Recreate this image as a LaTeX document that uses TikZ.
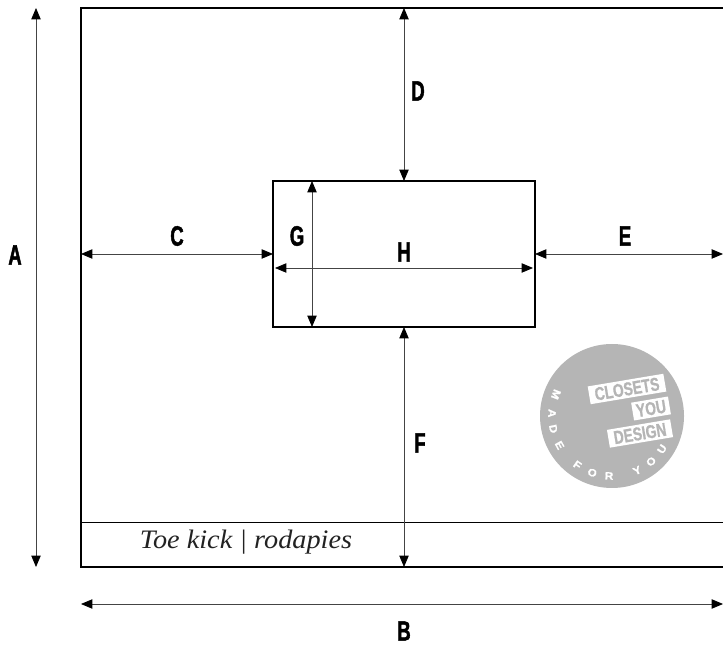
\documentclass[tikz,border=0pt]{standalone}
\usepackage{fontspec}
\usetikzlibrary{arrows.meta}
\newfontfamily\lblfont[FakeStretch=0.66,FakeBold=1.6]{Liberation Sans Bold}
\newfontfamily\badgefont[FakeStretch=0.74,FakeBold=0.8]{Liberation Sans Bold}
\newfontfamily\letterfont[FakeStretch=1.1,FakeBold=1]{Liberation Sans Bold}
\newfontfamily\toefont[FakeStretch=1.06]{Liberation Serif Italic}
\definecolor{badgegray}{HTML}{B5B5B5}
\definecolor{dimgray}{HTML}{444444}
\definecolor{toegray}{HTML}{222222}
\tikzset{
    dimlabel/.style={font=\lblfont\fontsize{21}{21}\selectfont, text=black, inner sep=0pt},
    dimline/.style={draw=dimgray, line width=0.6pt, {Triangle[length=8.5pt,width=7pt,color=black,fill=black]}-{Triangle[length=8.5pt,width=7pt,color=black,fill=black]}},
    frameline/.style={draw=black, line width=2pt},
    badgebar/.style={fill=white, text=badgegray, font=\badgefont\fontsize{14}{14}\selectfont, rotate=9.5, inner sep=0pt, minimum height=13.5pt},
    badgeletter/.style={text=white, font=\letterfont\fontsize{8}{8}\selectfont, inner sep=0pt}
}
\begin{document}
\begin{tikzpicture}[x=0.75pt, y=0.75pt]
        \useasboundingbox (0, 0) rectangle (723, 645);
        % frame corners and free ends
        \coordinate (tl) at (81, 637);
        \coordinate (tr) at (723, 637);
        \coordinate (bl) at (81, 78);
        \coordinate (br) at (723, 78);
        \coordinate (kl) at (81, 122.5);
        \coordinate (kr) at (723, 122.5);
        \coordinate (at) at (36, 637);
        \coordinate (ab) at (36, 78);
        \coordinate (bbl) at (81, 41);
        \coordinate (bbr) at (723, 41);
        \coordinate (cl) at (81, 391);
        \coordinate (er) at (723, 391);
        \coordinate (dt) at (404, 637);
        \coordinate (fb) at (404, 78);
        % opening
        \node [draw=black, line width=1.8pt, minimum width=196.5pt, minimum height=109.5pt, inner sep=0pt, outer sep=0pt] (box) at (404, 391) {};
        \coordinate (gt) at (312, 464);
        \coordinate (gb) at (312, 318);
        \coordinate (hl) at (275, 377);
        \coordinate (hr) at (533, 377);
        \draw [frameline] (tr) -- (tl) -- (bl) -- (br);
        \draw [draw=black, line width=0.7pt] (kl) -- (kr);
        % dimensions
        \path [dimline] (at) -- (ab);
        \path [dimline] (bbl) -- (bbr);
        \path [dimline] (cl) -- (box.west);
        \path [dimline] (box.east) -- (er);
        \path [dimline] (dt) -- (box.north);
        \path [dimline] (box.south) -- (fb);
        \path [dimline] (gt) -- (gb);
        \path [dimline] (hl) -- (hr);
        \node [dimlabel] (la) at (15, 390) {A};
        \node [dimlabel] (lb) at (404, 14) {B};
        \node [dimlabel] (lc) at (177, 409) {C};
        \node [dimlabel] (ld) at (418, 554) {D};
        \node [dimlabel] (le) at (625, 409) {E};
        \node [dimlabel] (lf) at (420, 202) {F};
        \node [dimlabel] (lg) at (297, 409) {G};
        \node [dimlabel] (lh) at (404, 393) {H};
        \node [font=\toefont\fontsize{20}{20}\selectfont, text=toegray, inner sep=0pt] (toe) at (246, 103) {Toe kick | rodapies};
        % badge
        \node [circle, fill=badgegray, minimum size=108pt, inner sep=0pt] (badge) at (612, 229) {};
        \node [badgebar, minimum width=57.5pt] (b1) at (627, 256) {CLOSETS};
        \node [badgebar, minimum width=28pt] (b2) at (651, 236.5) {YOU};
        \node [badgebar, minimum width=48pt] (b3) at (640, 211.5) {DESIGN};
        \foreach \ang/\ch in {159/M, 177.4/A, 192.4/D, 209.2/E, 234.8/F, 250.8/O, 267.2/R, 294.7/Y, 310.6/O, 326.5/U}
            \node [badgeletter, rotate=\ang+90] (m\ang) at ([shift={(\ang:60)}] badge) {\ch};
    \end{tikzpicture}
\end{document}
